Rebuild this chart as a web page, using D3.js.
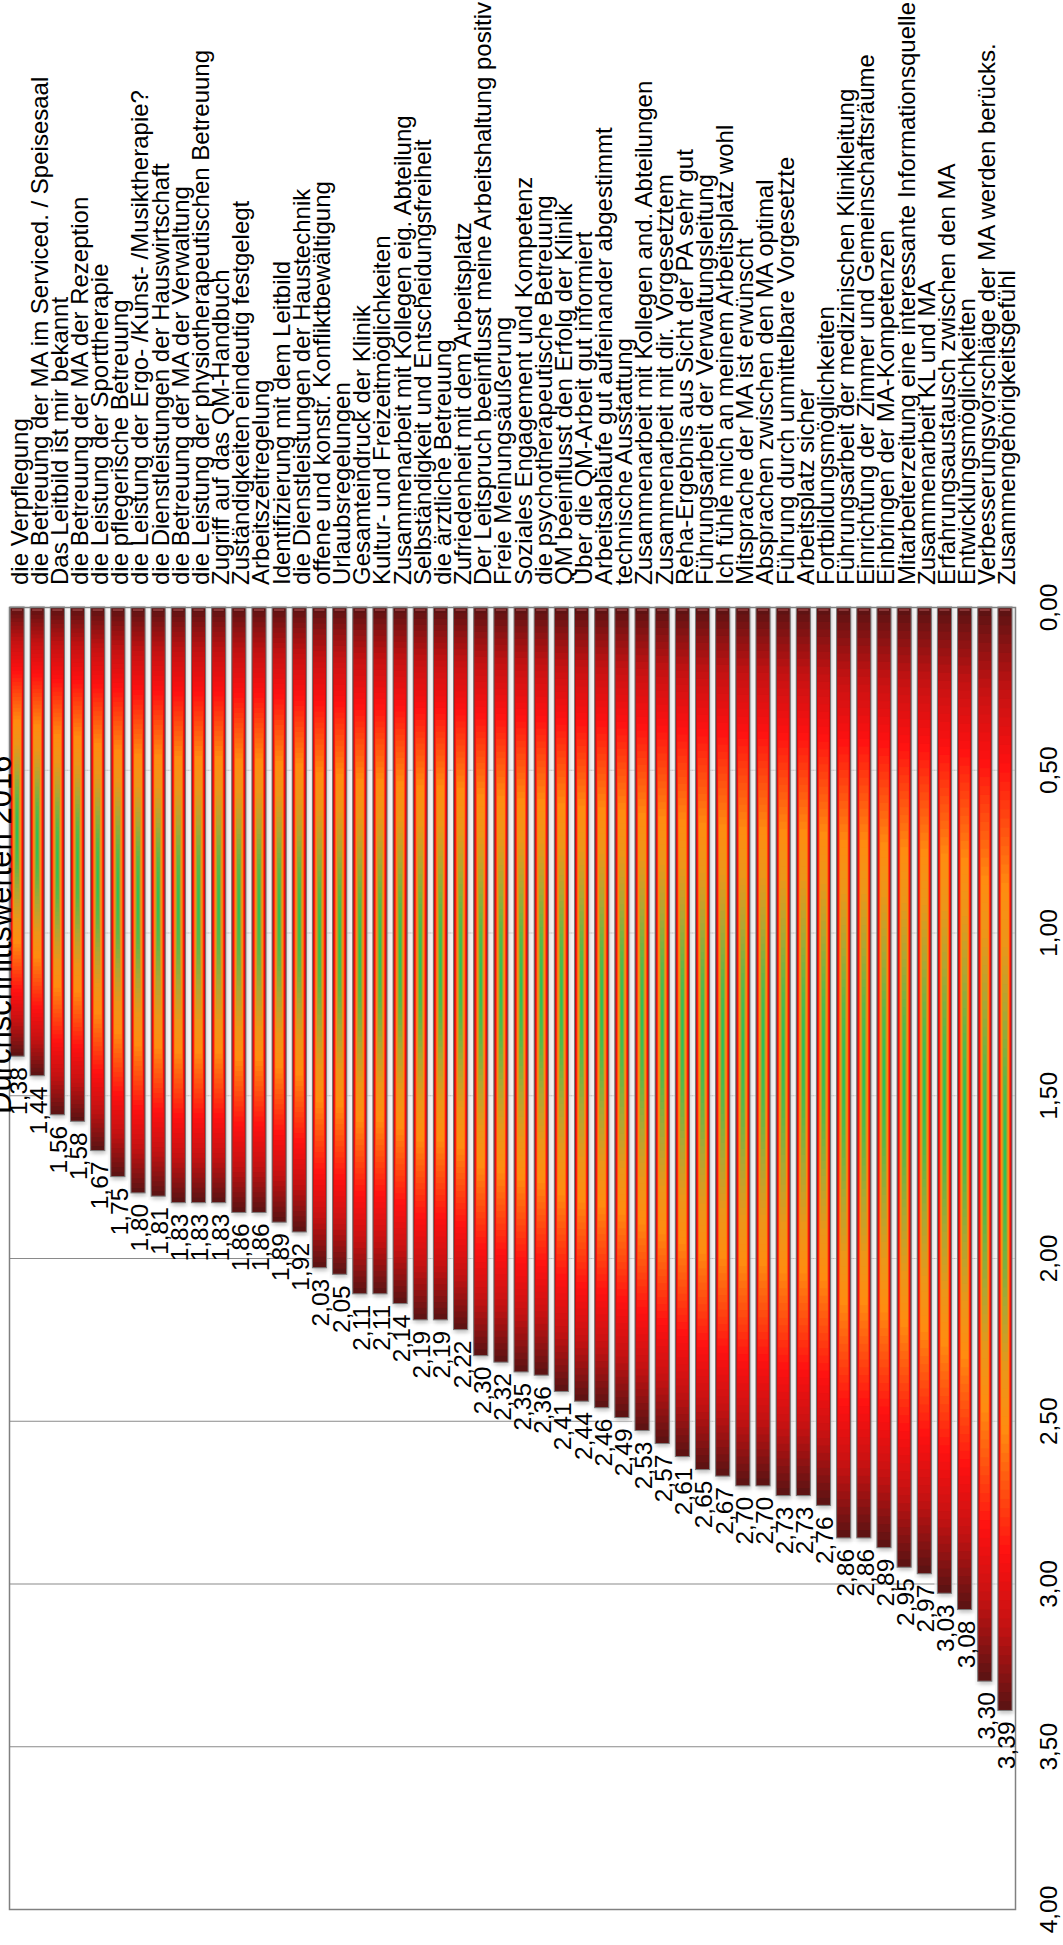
<!DOCTYPE html>
<html>
<head>
<meta charset="utf-8">
<script src="https://cdn.jsdelivr.net/npm/d3@7"></script>
<style>
    body { margin: 0; background: #fff; }
    text { font-family: "Liberation Sans", Arial, sans-serif; fill: #000; }
</style>
</head>
<body>
<script>
// chart data (sorted from lowest to highest mean)
var categories = [
    "die Verpflegung",
    "die Betreuung der MA im Serviced. / Speisesaal",
    "Das Leitbild ist mir bekannt",
    "die Betreuung der MA der Rezeption",
    "die Leistung der Sporttherapie",
    "die pflegerische Betreuung",
    "die Leistung der Ergo- /Kunst- /Musiktherapie?",
    "die Dienstleistungen der Hauswirtschaft",
    "die Betreuung der MA der Verwaltung",
    "die Leistung der physiotherapeutischen Betreuung",
    "Zugriff auf das QM-Handbuch",
    "Zuständigkeiten eindeutig festgelegt",
    "Arbeitszeitregelung",
    "Identifizierung mit dem Leitbild",
    "die Dienstleistungen der Haustechnik",
    "offene und konstr. Konfliktbewältigung",
    "Urlaubsregelungen",
    "Gesamteindruck der Klinik",
    "Kultur- und Freizeitmöglichkeiten",
    "Zusammenarbeit mit Kollegen eig. Abteilung",
    "Selbständigkeit und Entscheidungsfreiheit",
    "die ärztliche Betreuung",
    "Zufriedenheit mit dem Arbeitsplatz",
    "Der Leitspruch beeinflusst meine Arbeitshaltung positiv",
    "Freie Meinungsäußerung",
    "Soziales Engagement und Kompetenz",
    "die psychotherapeutische Betreuung",
    "QM beeinflusst den Erfolg der Klinik",
    "Über die QM-Arbeit gut informiert",
    "Arbeitsabläufe gut aufeinander abgestimmt",
    "technische Ausstattung",
    "Zusammenarbeit mit Kollegen and. Abteilungen",
    "Zusammenarbeit mit dir. Vorgesetztem",
    "Reha-Ergebnis aus Sicht der PA sehr gut",
    "Führungsarbeit der Verwaltungsleitung",
    "Ich fühle mich an meinem Arbeitsplatz wohl",
    "Mitsprache der MA ist erwünscht",
    "Absprachen zwischen den MA optimal",
    "Führung durch unmittelbare Vorgesetzte",
    "Arbeitsplatz sicher",
    "Fortbildungsmöglichkeiten",
    "Führungsarbeit der medizinischen Klinikleitung",
    "Einrichtung der Zimmer und Gemeinschaftsräume",
    "Einbringen der MA-Kompetenzen",
    "Mitarbeiterzeitung eine interessante Informationsquelle",
    "Zusammenarbeit KL und MA",
    "Erfahrungsaustausch zwischen den MA",
    "Entwicklungsmöglichkeiten",
    "Verbesserungsvorschläge der MA werden berücks.",
    "Zusammengehörigkeitsgefühl"
];

var values = [
    1.38, 1.44, 1.56, 1.58, 1.67, 1.75, 1.80, 1.81, 1.83, 1.83,
    1.83, 1.86, 1.86, 1.89, 1.92, 2.03, 2.05, 2.11, 2.11, 2.14,
    2.19, 2.19, 2.22, 2.30, 2.32, 2.35, 2.36, 2.41, 2.44, 2.46,
    2.49, 2.53, 2.57, 2.61, 2.65, 2.67, 2.70, 2.70, 2.73, 2.73,
    2.76, 2.86, 2.86, 2.89, 2.95, 2.97, 3.03, 3.08, 3.30, 3.39
];

var axisTicks = [0, 0.5, 1, 1.5, 2, 2.5, 3, 3.5, 4];
var gridTicks = [0.5, 1, 1.5, 2, 2.5, 3, 3.5];

var title = "Durchschnittswerten 2016";

// page is rendered upright, so bars hang down from the top of the plot
var width = 1063,
    height = 1945,
    plot = {left: 9, right: 1015, top: 607, bottom: 1909};

var locale = d3.formatLocale({decimal: ",", thousands: ".", grouping: [3], currency: ["", " €"]}),
    fmt = locale.format(".2f");

var x = d3.scaleBand()
    .domain(categories)
    .range([10, 1012])
    .paddingInner(0.3)
    .paddingOuter(0);

var y = d3.scaleLinear()
    .domain([0, 4])
    .range([plot.top, plot.bottom]);

// colour from the centre (0) to the edge (1) of each bar, like a rectangular path gradient
var shade = d3.scaleLinear()
    .domain([0, 0.14, 0.28, 0.4, 0.5, 0.62, 0.72, 0.86, 1])
    .range(["#1ec45e", "#55b94a", "#aea634", "#ec9619", "#ff8c10",
            "#ff4a10", "#ff1111", "#c21212", "#5e1313"])
    .interpolate(d3.interpolateRgb);

var svg = d3.select("body").append("svg")
    .attr("width", width)
    .attr("height", height);

var defs = svg.append("defs");

var blur = defs.append("filter")
    .attr("id", "shadow")
    .attr("x", "-50%").attr("y", "-10%")
    .attr("width", "200%").attr("height", "120%");
blur.append("feGaussianBlur").attr("stdDeviation", 2);

// grid lines
svg.append("g")
    .attr("class", "grid")
    .selectAll("line")
    .data(gridTicks)
    .join("line")
    .attr("x1", plot.left)
    .attr("x2", plot.right)
    .attr("y1", d => y(d) + 0.5)
    .attr("y2", d => y(d) + 0.5)
    .style("stroke", "#8a8a8a")
    .style("stroke-width", 1.2);

// soft white/grey glow around the bars that lightens the grid
var glow = svg.append("g").attr("class", "glow");

glow.selectAll("rect.white")
    .data(values)
    .join("rect")
    .attr("class", "white")
    .attr("x", (d, i) => x(categories[i]) - 3)
    .attr("width", x.bandwidth() + 6)
    .attr("y", y(0))
    .attr("height", d => y(d) - y(0) + 4)
    .style("fill", "#fafafa")
    .style("opacity", 0.75);

glow.selectAll("rect.shade")
    .data(values)
    .join("rect")
    .attr("class", "shade")
    .attr("x", (d, i) => x(categories[i]) + 1)
    .attr("width", x.bandwidth())
    .attr("y", y(0) + 1)
    .attr("height", d => y(d) - y(0) + 2)
    .style("fill", "#000")
    .style("opacity", 0.22)
    .attr("filter", "url(#shadow)");

// bars, built from nested rectangles that shade from the edge to the centre
var steps = d3.range(1, 0, -1 / 60);

var bars = svg.append("g")
    .attr("class", "bars")
    .selectAll("g")
    .data(values)
    .join("g");

bars.each(function(v, i) {
    var g = d3.select(this),
        bx = x(categories[i]),
        bw = x.bandwidth(),
        by = y(0),
        bh = y(v) - y(0),
        cx = bx + bw / 2,
        cy = by + bh / 2;

    g.selectAll("rect")
        .data(steps)
        .join("rect")
        .attr("x", t => cx - bw * t / 2)
        .attr("y", t => cy - bh * t / 2)
        .attr("width", t => bw * t)
        .attr("height", t => bh * t)
        .style("fill", t => shade(t));

    g.append("rect")
        .attr("x", bx)
        .attr("y", by)
        .attr("width", bw)
        .attr("height", bh)
        .style("fill", "none")
        .style("stroke", "#7c7c7c")
        .style("stroke-width", 1);

    g.append("line")
        .attr("x1", bx + 2)
        .attr("x2", bx + bw - 2)
        .attr("y1", by + 3)
        .attr("y2", by + 3)
        .style("stroke", "#e07a7a")
        .style("stroke-width", 1)
        .style("opacity", 0.7);
});

// plot frame
svg.append("rect")
    .attr("x", plot.left + 0.5)
    .attr("y", plot.top + 0.5)
    .attr("width", plot.right - plot.left)
    .attr("height", plot.bottom - plot.top)
    .style("fill", "none")
    .style("stroke", "#808080")
    .style("stroke-width", 1.5);

// value axis on the right, labels turned like the rest of the page
var valueAxis = d3.axisRight(y)
    .tickValues(axisTicks)
    .tickSize(0)
    .tickFormat(fmt);

var gAxis = svg.append("g")
    .attr("class", "value-axis")
    .attr("transform", "translate(" + plot.right + ",0)")
    .call(valueAxis);

gAxis.select(".domain").remove();
gAxis.selectAll("text")
    .attr("x", 0)
    .attr("dy", 0)
    .attr("text-anchor", "middle")
    .attr("transform", "translate(42,0) rotate(-90)")
    .style("font-size", "24.5px")
    .style("font-family", "'Liberation Sans', Arial, sans-serif");

// category labels above the bars
svg.append("g")
    .attr("class", "cat-labels")
    .selectAll("text")
    .data(categories)
    .join("text")
    .attr("transform", d => "translate(" + (x(d) + 17.5) + ",585) rotate(-90)")
    .attr("text-anchor", "start")
    .style("font-size", "24px")
    .text(d => d);

// value labels below each bar
svg.append("g")
    .attr("class", "value-labels")
    .selectAll("text")
    .data(values)
    .join("text")
    .attr("transform", (d, i) => "translate(" + (x(categories[i]) + 17) + "," + (y(d) + 11) + ") rotate(-90)")
    .attr("text-anchor", "end")
    .style("font-size", "24.5px")
    .text(d => fmt(d));

// title, partly cut off at the left edge
svg.append("text")
    .attr("class", "title")
    .attr("transform", "translate(11,1114) rotate(-90)")
    .attr("text-anchor", "start")
    .style("font-size", "31px")
    .text(title);
</script>
</body>
</html>
